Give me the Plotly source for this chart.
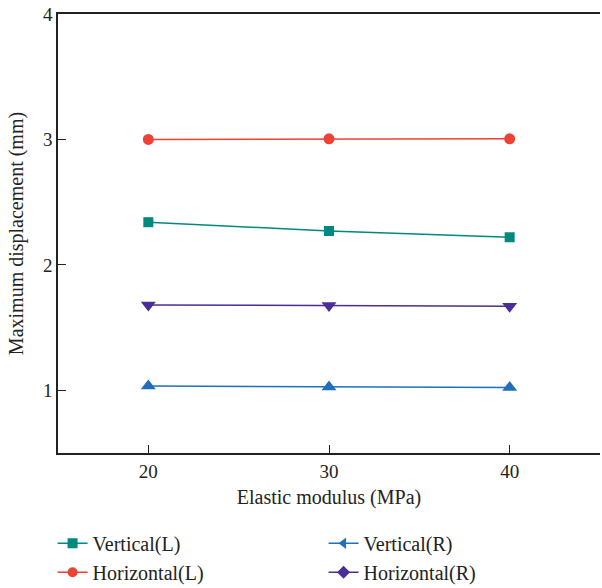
import plotly.graph_objects as go

modulus = [20, 30, 40]
vertical_L = [2.34, 2.27, 2.22]
horizontal_L = [3.0, 3.005, 3.005]
vertical_R = [1.034, 1.027, 1.022]
horizontal_R = [1.68, 1.675, 1.67]

series = [
    ("Vertical(L)", vertical_L, "#00897E", "square", "square", "legend", 10),
    ("Horizontal(L)", horizontal_L, "#EE4136", "circle", "circle", "legend", 11),
    ("Vertical(R)", vertical_R, "#1F6FBA", "triangle-up", "triangle-left", "legend2", 13),
    ("Horizontal(R)", horizontal_R, "#4A2E96", "triangle-down", "diamond", "legend2", 13),
]

fig = go.Figure()
for name, vals, color, sym, legsym, leg, msize in series:
    fig.add_trace(go.Scatter(
        x=modulus, y=vals, mode="lines+markers", name=name, showlegend=False,
        line=dict(color=color, width=1.5),
        marker=dict(symbol=sym, size=msize, color=color),
    ))
    fig.add_trace(go.Scatter(
        x=[None], y=[None], mode="lines+markers", name=name, legend=leg,
        line=dict(color=color, width=1.5),
        marker=dict(symbol=legsym, size=10, color=color),
    ))

font = "Liberation Serif, Times New Roman, serif"
fig.update_layout(
    width=602, height=588,
    margin=dict(l=58, r=2, t=14, b=135, autoexpand=False),
    plot_bgcolor="white", paper_bgcolor="white",
    font=dict(family=font, size=20, color="#222"),
    xaxis=dict(
        range=[15, 45], tickvals=[20, 30, 40], ticks="inside", ticklen=8,
        tickcolor="#222", showline=True, linecolor="#222", linewidth=1.5,
        mirror=True, showgrid=False, zeroline=False, automargin=True,
        ticklabelstandoff=0,
        title=dict(text="Elastic modulus (MPa)", standoff=9, font=dict(size=20)),
        tickfont=dict(size=19),
    ),
    yaxis=dict(
        range=[0.5, 4], tickvals=[1, 2, 3, 4], ticks="inside", ticklen=8,
        tickcolor="#222", showline=True, linecolor="#222", linewidth=1.5,
        showgrid=False, zeroline=False, automargin=True,
        title=dict(text="Maximum displacement (mm)", standoff=14, font=dict(size=20)),
        tickfont=dict(size=19),
    ),
    legend=dict(x=-0.01, y=-0.161, xanchor="left", yanchor="top",
                orientation="v", tracegroupgap=0, font=dict(size=20),
                itemwidth=30, bgcolor="rgba(0,0,0,0)"),
    legend2=dict(x=0.49, y=-0.161, xanchor="left", yanchor="top",
                 orientation="v", tracegroupgap=0, font=dict(size=20),
                 itemwidth=30, bgcolor="rgba(0,0,0,0)"),
)

fig.write_html("out.html", config={"displayModeBar": False},
               post_script="document.body.style.margin='0';")
